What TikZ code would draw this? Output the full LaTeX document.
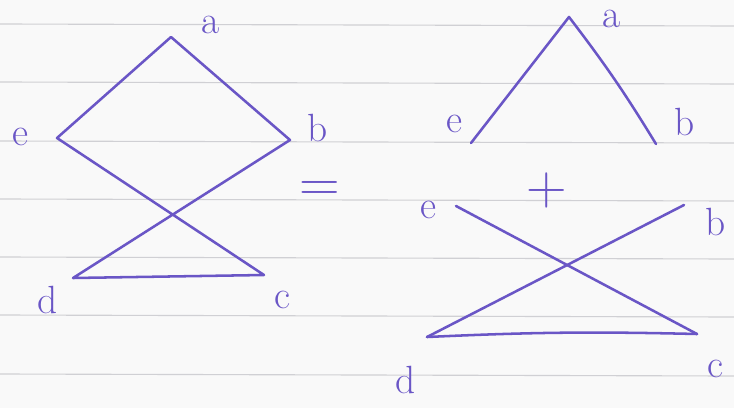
\documentclass[tikz,border=0pt]{standalone}
\usepackage{tikz}
\usetikzlibrary{positioning}
\definecolor{ink}{RGB}{106,86,198}
\definecolor{rule}{RGB}{208,208,212}
\definecolor{paper}{RGB}{249,249,249}

\begin{document}
\begin{tikzpicture}[x=0.025cm, y=-0.025cm,
    stroke/.style={draw=ink, line width=1.8pt, line cap=round, line join=round},
    letter/.style={text=ink, font=\fontsize{28}{28}\selectfont, inner sep=0pt},
    sign/.style={text=ink, font=\fontsize{40}{40}\selectfont, inner sep=0pt},
    ruling/.style={draw=rule, line width=0.8pt}
  ]
    % Paper and ruled lines
    \fill[paper] (0,0) rectangle (734,408);
    \useasboundingbox (0,0) rectangle (734,408);
    \foreach \y in {24,82,141,199,257,315,374}
      \draw[ruling] (0,\y) -- (734,\y+2);

    % Left figure
    \coordinate (a1) at (171,37);
    \coordinate (e1) at (57,138);
    \coordinate (b1) at (290,140);
    \coordinate (d1) at (73,278);
    \coordinate (c1) at (264,275);
    \draw[stroke] (e1) -- (a1) -- (b1) -- (d1) -- (c1) -- cycle;

    \node[letter] (la1) at (211,25) {a};
    \node[letter] (le1) at (20,137) {e};
    \node[letter] (lb1) at (318,128) {b};
    \node[letter] (ld1) at (48,300) {d};
    \node[letter] (lc1) at (282,300) {c};

    % Equals and plus
    \node[sign] (eq) at (320,191) {=};
    \node[sign] (plus) at (547,190) {+};

    % Right top figure
    \coordinate (a2) at (569,17);
    \coordinate (e2) at (471,143);
    \coordinate (b2) at (656,144);
    \draw[stroke] (e2) -- (a2) to[bend left=3] (b2);

    \node[letter] (la2) at (612,19) {a};
    \node[letter] (le2) at (454,124) {e};
    \node[letter] (lb2) at (685,122) {b};

    % Right bottom figure
    \coordinate (e3) at (456,206);
    \coordinate (b3) at (684,205);
    \coordinate (d3) at (427,337);
    \coordinate (c3) at (697,334);
    \draw[stroke] (e3) -- (c3);
    \draw[stroke] (b3) -- (d3);
    \draw[stroke] (d3) to[bend left=2] (c3);

    \node[letter] (le3) at (428,210) {e};
    \node[letter] (lb3) at (716,222) {b};
    \node[letter] (ld3) at (406,380) {d};
    \node[letter] (lc3) at (715,369) {c};
  \end{tikzpicture}
\end{document}
